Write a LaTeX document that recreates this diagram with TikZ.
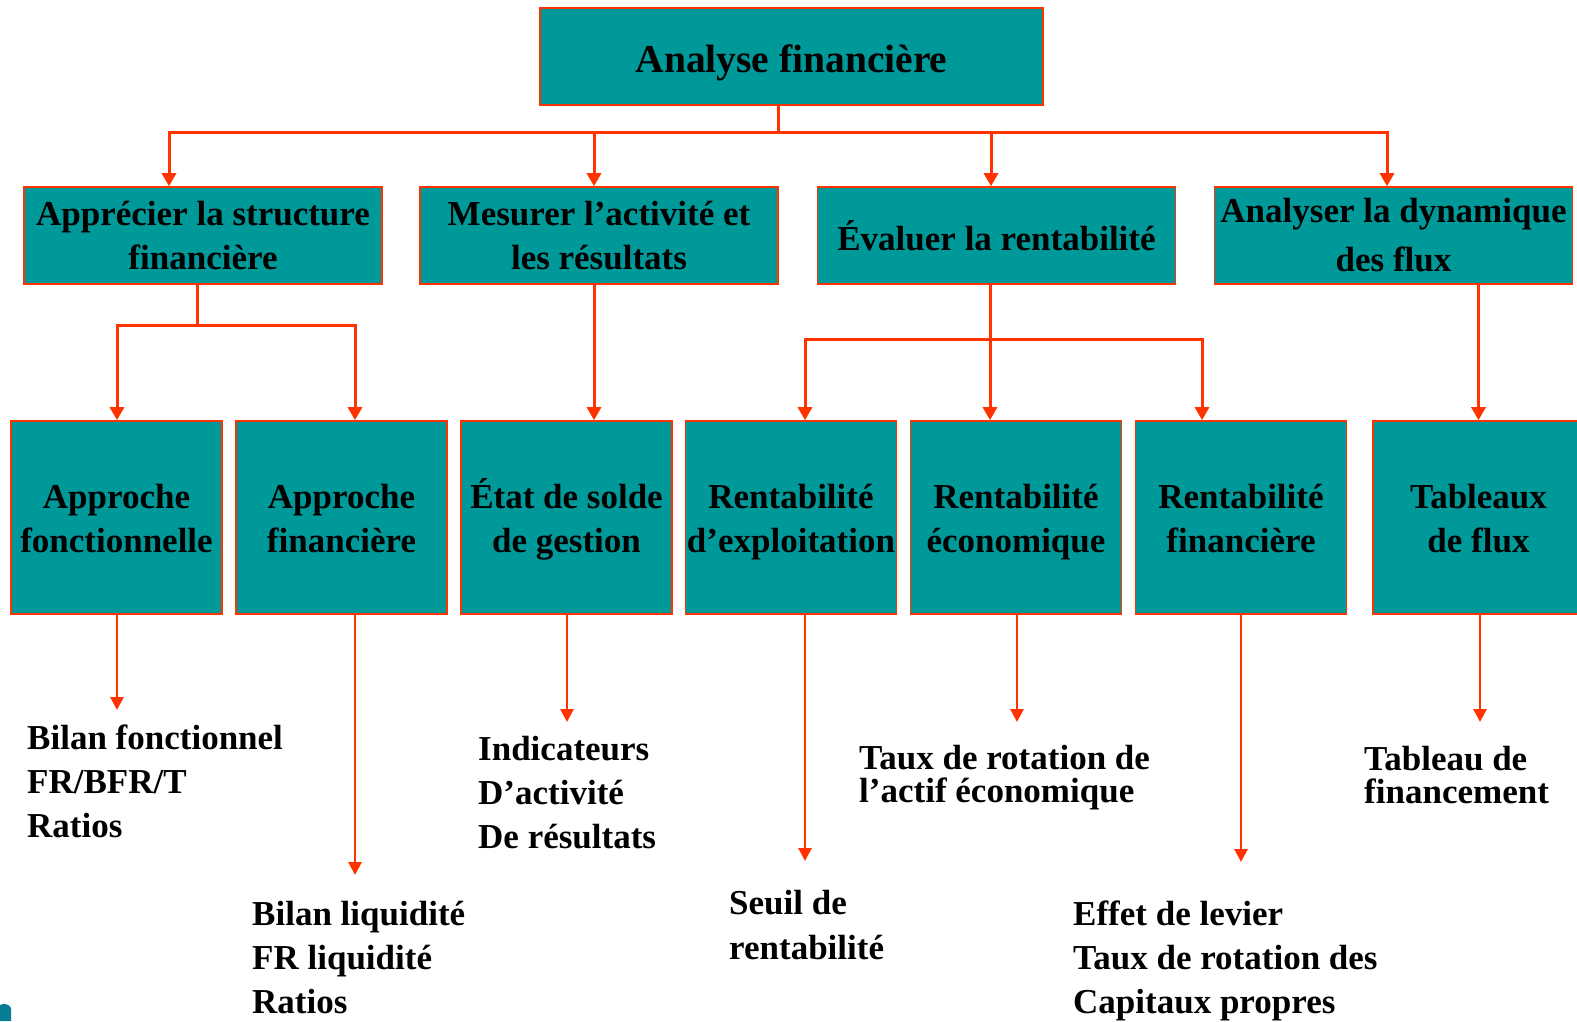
\documentclass[tikz,border=0pt]{standalone}
\usepackage{fontspec}
\setmainfont{Liberation Serif}
\usetikzlibrary{arrows.meta}
\definecolor{tealc}{RGB}{0,153,153}
\definecolor{ared}{RGB}{255,51,0}
\definecolor{cornc}{RGB}{10,125,150}
\newcommand\mytopst{\rule{0pt}{34pt}}
\newcommand\mybotst{\rule[-8pt]{0pt}{8pt}}
\begin{document}
\begin{tikzpicture}[x=1pt,y=-1pt,
  box/.style={draw=ared,line width=1.6pt,fill=tealc,inner sep=0pt,align=center,text=black,font=\bfseries\fontsize{35}{44}\selectfont},
  topbox/.style={box,minimum width=503pt,minimum height=97pt,font=\bfseries\fontsize{39.5}{47}\selectfont},
  midbox/.style={box,minimum width=358pt,minimum height=97pt},
  lowbox/.style={box,minimum width=211pt,minimum height=193pt},
  link/.style={draw=ared,line width=3pt},
  arr/.style={link,-{Triangle[width=14pt,length=13pt]}},
  arrb/.style={draw=ared,line width=2.8pt,-{Triangle[width=13pt,length=13pt]}},
  lst/.style={anchor=base west,inner sep=0pt,font=\bfseries\fontsize{35}{44}\selectfont}
]
\fill[white] (0,0) rectangle (1577,1021);
\useasboundingbox (0,0) rectangle (1577,1021);
\fill[cornc] (0,1005) .. controls (4,1003) and (9,1004) .. (11,1008) -- (11,1021) -- (0,1021) -- cycle;

% top
\node[topbox] (top) at (791.5,56.5) {\raisebox{-6pt}[\height][\depth]{Analyse financière}};

% level 2
\node[midbox] (b1) at (203,235.5) {Apprécier la structure\\financière};
\node[midbox] (b2) at (599,235.5) {Mesurer l’activité et\\les résultats};
\node[midbox] (b3) at (996.5,235.5) {Évaluer la rentabilité};
\node[midbox,font=\bfseries\fontsize{35}{49}\selectfont] (b4) at (1393.5,235.5) {Analyser la dynamique\\des flux};

% level 3
\node[lowbox] (c1) at (116.5,517.5) {\mytopst Approche\\fonctionnelle\mybotst};
\node[lowbox] (c2) at (341.5,517.5) {\mytopst Approche\\financière\mybotst};
\node[lowbox] (c3) at (566.5,517.5) {\mytopst État de solde\\de gestion\mybotst};
\node[lowbox] (c4) at (791,517.5) {\mytopst Rentabilité\\d’exploitation\mybotst};
\node[lowbox] (c5) at (1016,517.5) {\mytopst Rentabilité\\économique\mybotst};
\node[lowbox] (c6) at (1241,517.5) {\mytopst Rentabilité\\financière\mybotst};
\node[lowbox] (c7) at (1478.5,517.5) {\mytopst Tableaux\\de flux\mybotst};

% bottom texts
\node[lst] (t1) at (27,749) {\vtop{\baselineskip=44pt\lineskiplimit=-100pt\hbox{Bilan fonctionnel}\hbox{FR/BFR/T}\hbox{Ratios}}};
\node[lst] (t2) at (252,925) {\vtop{\baselineskip=44pt\lineskiplimit=-100pt\hbox{Bilan liquidité}\hbox{FR liquidité}\hbox{Ratios}}};
\node[lst] (t3) at (478,760) {\vtop{\baselineskip=44pt\lineskiplimit=-100pt\hbox{Indicateurs}\hbox{D’activité}\hbox{De résultats}}};
\node[lst] (t4) at (729,914) {\vtop{\baselineskip=45pt\lineskiplimit=-100pt\hbox{Seuil de}\hbox{rentabilité}}};
\node[lst] (t5) at (859,769) {\vtop{\baselineskip=33pt\lineskiplimit=-100pt\hbox{Taux de rotation de}\hbox{l’actif économique}}};
\node[lst] (t6) at (1073,925) {\vtop{\baselineskip=44pt\lineskiplimit=-100pt\hbox{Effet de levier}\hbox{Taux de rotation des}\hbox{Capitaux propres}}};
\node[lst] (t7) at (1364,770) {\vtop{\baselineskip=33pt\lineskiplimit=-100pt\hbox{Tableau de}\hbox{financement}}};

% connectors level 1
\coordinate (j0) at (778,132);
\draw[link] (top.south -| j0) -- (j0);
\draw[arr] (j0) -| ([xshift=-34pt]b1.north);
\draw[arr] (j0) -| ([xshift=-5pt]b2.north);
\draw[arr] (j0) -| ([xshift=-5.5pt]b3.north);
\draw[arr] (j0) -| ([xshift=-6.5pt]b4.north);

% b1 -> c1, c2
\coordinate (j1) at (197,325);
\draw[link] (b1.south -| j1) -- (j1);
\draw[arr] (j1) -| ([xshift=0.5pt]c1.north);
\draw[arr] (j1) -| ([xshift=13.5pt]c2.north);

% b2 -> c3
\draw[arr] ([xshift=-5pt]b2.south) -- ([xshift=-5pt]b2.south |- c3.north);

% b3 -> c4, c5, c6
\coordinate (j3) at (990,339);
\draw[arr] (b3.south -| j3) -- (c5.north -| j3);
\draw[arr] (j3) -| ([xshift=14pt]c4.north);
\draw[arr] (j3) -| ([xshift=-39pt]c6.north);

% b4 -> c7
\draw[arr] (b4.south -| c7.north) -- (c7.north);

% bottom arrows
\coordinate (e1) at (117,710);
\coordinate (e2) at (355,875);
\coordinate (e3) at (567,722);
\coordinate (e4) at (805,861);
\coordinate (e5) at (1017,722);
\coordinate (e6) at (1241,862);
\coordinate (e7) at (1480,722);
\draw[arrb] (c1.south -| e1) -- (e1);
\draw[arrb] (c2.south -| e2) -- (e2);
\draw[arrb] (c3.south -| e3) -- (e3);
\draw[arrb] (c4.south -| e4) -- (e4);
\draw[arrb] (c5.south -| e5) -- (e5);
\draw[arrb] (c6.south -| e6) -- (e6);
\draw[arrb] (c7.south -| e7) -- (e7);
\end{tikzpicture}
\end{document}
